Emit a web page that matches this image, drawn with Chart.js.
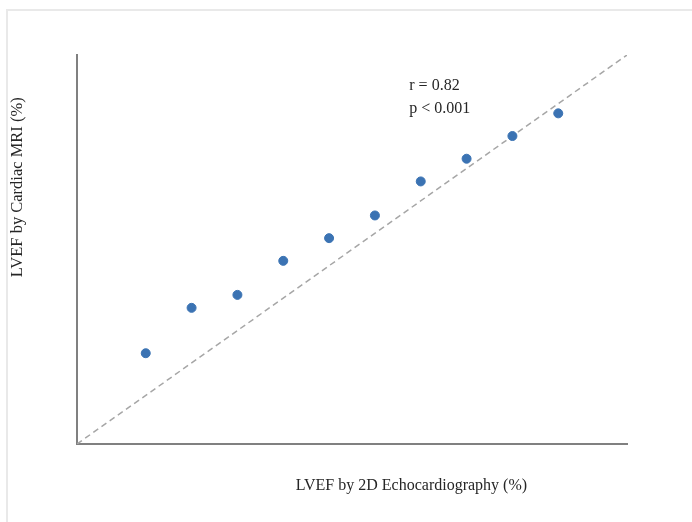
<!DOCTYPE html>
<html>
<head>
<meta charset="utf-8">
<script src="https://cdn.jsdelivr.net/npm/chart.js@4"></script>
<style>
  body { margin: 0; background: #fff; }
  #frame { position: absolute; left: 6px; top: 9px; width: 700px; height: 530px; border: 2px solid #e9e9e9; box-sizing: border-box; }
  #wrap { position: absolute; left: 0; top: 0; width: 692px; height: 522px; }
</style>
</head>
<body>
<div id="frame"></div>
<div id="wrap"><canvas id="chart" width="692" height="522"></canvas></div>
<script>
// Echo vs MRI points (no ticks in the original, arbitrary units 0-12)
const echoValues = [1.5, 2.5, 3.5, 4.5, 5.5, 6.5, 7.5, 8.5, 9.5, 10.5];
const mriValues = [2.8, 4.2, 4.6, 5.65, 6.35, 7.05, 8.1, 8.8, 9.5, 10.2];
const identityX = [0, 12];
const identityY = [0, 12];
const statsLines = ["r = 0.82", "p < 0.001"];
const xTitle = "LVEF by 2D Echocardiography (%)";
const yTitle = "LVEF by Cardiac MRI (%)";

const serif = "'Liberation Serif', 'Times New Roman', serif";

// Draw axis titles and the r / p text
const textPlugin = {
    id: "texts",
    afterDraw(chart) {
        const ctx = chart.ctx;
        const area = chart.chartArea;
        const xs = chart.scales.x, ys = chart.scales.y;
        ctx.save();
        ctx.fillStyle = "#262626";
        ctx.font = "16px " + serif;
        ctx.textBaseline = "middle";
        ctx.textAlign = "left";
        statsLines.forEach((t, i) => {
            ctx.fillText(t, xs.getPixelForValue(7.25), ys.getPixelForValue(11.05) + i * 23);
        });
        ctx.textAlign = "center";
        ctx.fillText(xTitle, area.left + area.width * 0.608, area.bottom + 42);
        ctx.font = "16.5px " + serif;
        ctx.translate(area.left - 59, area.top + area.height * 0.34);
        ctx.rotate(-Math.PI / 2);
        ctx.fillText(yTitle, 0, 0);
        ctx.restore();
    }
};

const ctx = document.getElementById("chart").getContext("2d");
new Chart(ctx, {
    type: "scatter",
    data: {
        datasets: [{
            label: "Patients",
            data: echoValues.map((v, i) => ({ x: v, y: mriValues[i] })),
            backgroundColor: "#3b73b3",
            borderColor: "#3b73b3",
            pointRadius: 4.5,
            order: 1
        }, {
            label: "Identity",
            data: identityX.map((v, i) => ({ x: v, y: identityY[i] })),
            showLine: true,
            borderColor: "#a6a6a6",
            borderWidth: 1.5,
            borderDash: [6, 4],
            pointRadius: 0,
            order: 2
        }]
    },
    options: {
        responsive: false,
        animation: false,
        layout: { padding: { left: 77, top: 55, right: 65, bottom: 78 } },
        plugins: { legend: { display: false }, tooltip: { enabled: false } },
        scales: {
            x: {
                min: 0, max: 12,
                ticks: { display: false },
                grid: { display: false, drawTicks: false },
                border: { display: true, color: "#808080", width: 2 }
            },
            y: {
                min: 0, max: 12,
                ticks: { display: false },
                grid: { display: false, drawTicks: false },
                border: { display: true, color: "#808080", width: 2 }
            }
        }
    },
    plugins: [textPlugin]
});
</script>
</body>
</html>
